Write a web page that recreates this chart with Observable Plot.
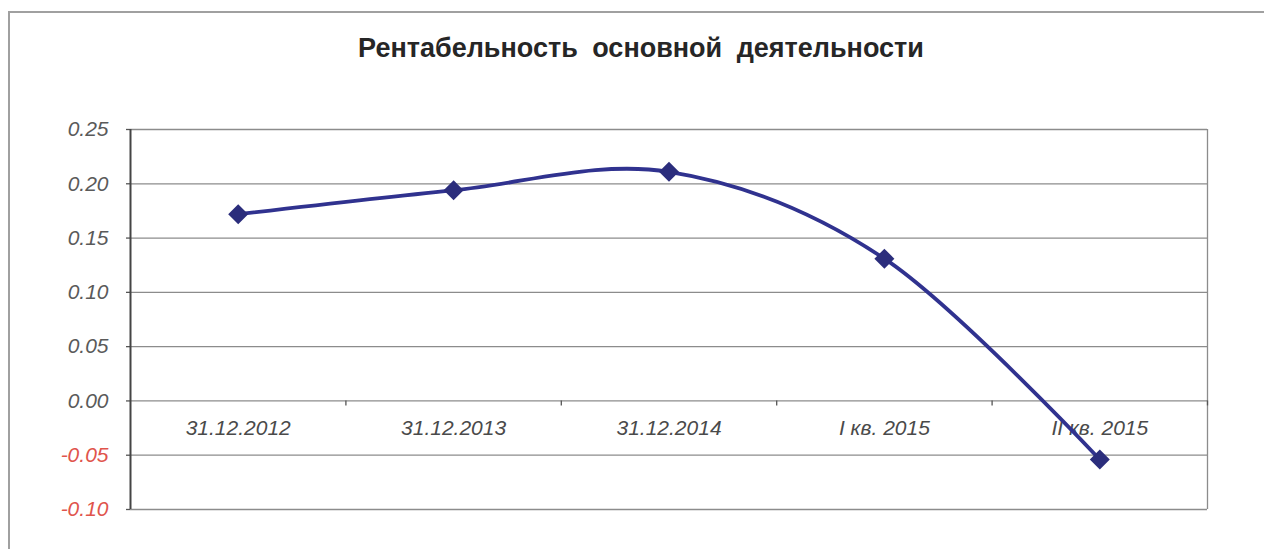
<!DOCTYPE html>
<html><head><meta charset="utf-8">
<script src="https://cdn.jsdelivr.net/npm/d3@7"></script>
<script src="https://cdn.jsdelivr.net/npm/@observablehq/plot@0.6"></script>
<style>
html,body{margin:0;padding:0;background:#fff;overflow:hidden;width:1264px;height:549px}
#wrap{position:relative;width:1264px;height:549px;overflow:hidden}
#border{position:absolute;left:8px;top:11px;width:1400px;height:700px;border:2px solid #a0a0a0;box-sizing:border-box}
#title{position:absolute;left:0;width:1282px;top:33px;text-align:center;font:bold 27px "Liberation Sans",Arial,sans-serif;line-height:31px;color:#262626;word-spacing:7px}
#chart{position:absolute;left:0;top:0}
</style></head><body>
<div id="wrap"><div id="border"></div><div id="chart"></div><div id="title">Рентабельность основной деятельности</div></div>
<script>
const categories = ["31.12.2012", "31.12.2013", "31.12.2014", "I кв. 2015", "II кв. 2015"];
const values = [0.172, 0.194, 0.211, 0.131, -0.054];
const yTicks = [-0.10, -0.05, 0.00, 0.05, 0.10, 0.15, 0.20, 0.25];

const data = categories.map((label, i) => ({i, label, value: values[i]}));
const boundaries = categories.map((c, i) => i + 0.5);
const leftEdge = -0.5;
const rightEdge = categories.length - 0.5;

const chart = Plot.plot({
  width: 1264,
  height: 549,
  marginLeft: 130,
  marginRight: 57,
  marginTop: 129,
  marginBottom: 40,
  style: {background: "transparent", fontFamily: "'Liberation Sans', Arial, sans-serif"},
  x: {domain: [leftEdge, rightEdge], axis: null},
  y: {domain: [yTicks[0], yTicks[yTicks.length - 1]], axis: null},
  color: {type: "identity"},
  marks: [
    Plot.ruleY(yTicks, {stroke: "#8c8c8c", strokeWidth: 1.3}),
    Plot.ruleX([rightEdge], {stroke: "#8c8c8c", strokeWidth: 1.3}),
    Plot.ruleY(yTicks, {x1: leftEdge, x2: leftEdge, insetLeft: -4, stroke: "#555", strokeWidth: 1.3}),
    Plot.ruleX([leftEdge], {stroke: "#444", strokeWidth: 2}),
    Plot.ruleX(boundaries, {y1: 0, y2: 0, insetBottom: -5, stroke: "#555", strokeWidth: 1.3}),
    Plot.text(yTicks, {
      y: d => d, text: d => d.toFixed(2), frameAnchor: "left", textAnchor: "end", dx: -22,
      fill: d => d < 0 ? "#e0544c" : "#5a5a5a", fontStyle: "italic", fontSize: 21
    }),
    Plot.text(data, {x: "i", y: 0, text: "label", dy: 27, fontStyle: "italic", fontSize: 21, fill: "#4a4a4a"}),
    Plot.line(data, {x: "i", y: "value", curve: "cardinal", stroke: "#30328f", strokeWidth: 3.8}),
    Plot.dot(data, {x: "i", y: "value", symbol: "diamond2", r: 9, fill: "#2b2d7c", stroke: "none"})
  ]
});
document.getElementById("chart").appendChild(chart);
</script>
</body></html>
